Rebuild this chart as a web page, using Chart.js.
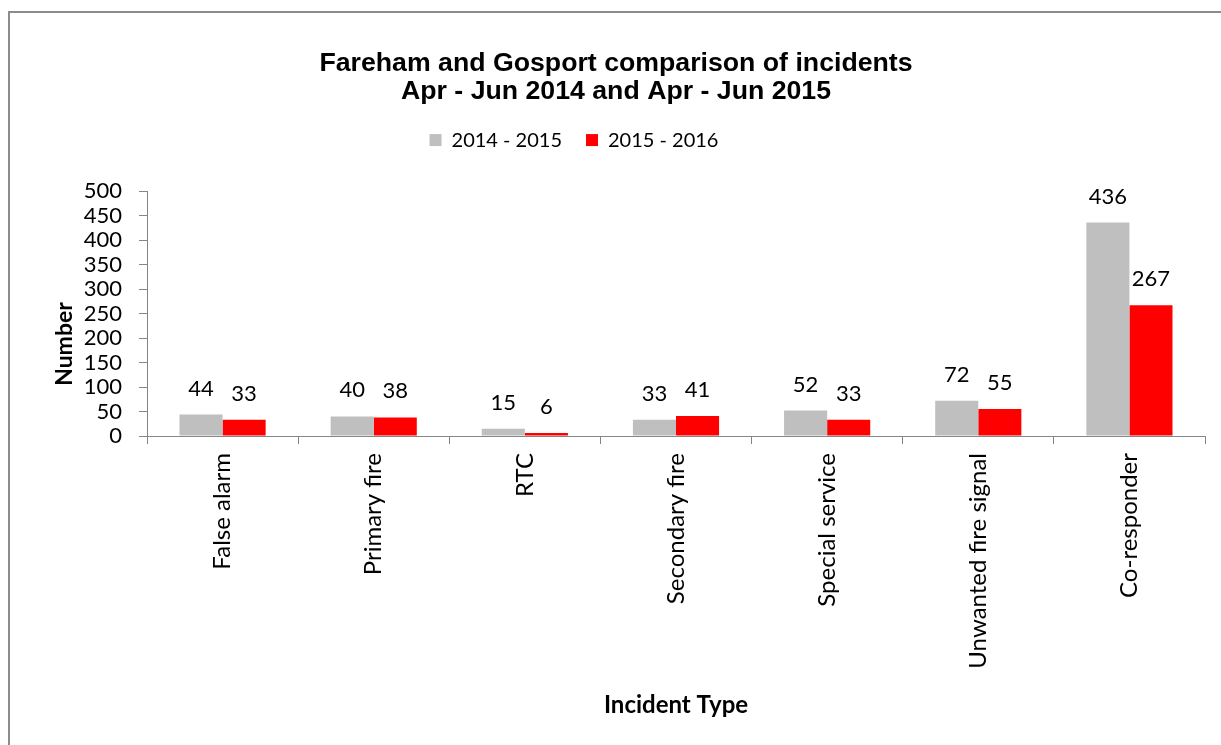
<!DOCTYPE html>
<html>
<head>
<meta charset="utf-8">
<script src="https://cdn.jsdelivr.net/npm/chart.js@4.4.0/dist/chart.umd.min.js"></script>
<style>
    body { margin: 0; background: #fff; }
    #frame {
        position: absolute; left: 8px; top: 11px; width: 1240px; height: 760px;
        border: 2px solid #8c8c8c; box-sizing: border-box;
    }
    #wrap { position: absolute; left: 0; top: 0; width: 1221px; height: 745px; }
</style>
</head>
<body>
<div id="frame"></div>
<div id="wrap"><canvas id="incidentChart" width="1221" height="745"></canvas></div>
<script>
const categories = ['False alarm', 'Primary fire', 'RTC', 'Secondary fire', 'Special service', 'Unwanted fire signal', 'Co-responder'];
const seriesNames = ['2014 - 2015', '2015 - 2016'];
const values2014 = [44, 40, 15, 33, 52, 72, 436];
const values2015 = [33, 38, 6, 41, 33, 55, 267];
const yTicks = [0, 50, 100, 150, 200, 250, 300, 350, 400, 450, 500];

const bodyFont = 'Lato, "Open Sans", sans-serif';

// value labels above each bar
const barLabels = {
    id: 'barLabels',
    afterDatasetsDraw(chart) {
        const ctx = chart.ctx;
        ctx.save();
        ctx.font = '22px ' + bodyFont;
        ctx.fillStyle = '#000';
        ctx.textAlign = 'center';
        ctx.textBaseline = 'middle';
        chart.data.datasets.forEach((ds, i) => {
            chart.getDatasetMeta(i).data.forEach((bar, j) => {
                ctx.fillText(ds.data[j], bar.x, bar.y - 26);
            });
        });
        ctx.restore();
    }
};

// extra room under the legend, and nudge title/legend left like the original
const legendGap = {
    id: 'legendGap',
    beforeInit(chart) {
        const fit = chart.legend.fit;
        chart.legend.fit = function () {
            fit.bind(chart.legend)();
            this.height += 31;
        };
    },
    afterUpdate(chart) {
        chart.legend.left -= 54;
        chart.legend.right -= 54;
        chart.titleBlock.left -= 12;
        chart.titleBlock.right -= 12;
    }
};

new Chart(document.getElementById('incidentChart'), {
    type: 'bar',
    data: {
        labels: categories,
        datasets: [
            { label: seriesNames[0], data: values2014, backgroundColor: '#bfbfbf' },
            { label: seriesNames[1], data: values2015, backgroundColor: '#ff0000' }
        ]
    },
    options: {
        responsive: false,
        animation: false,
        layout: { padding: { left: 51, right: 16, top: 0, bottom: 24 } },
        categoryPercentage: 0.57,
        barPercentage: 1,
        plugins: {
            title: {
                display: true,
                text: ['Fareham and Gosport comparison of incidents', 'Apr - Jun 2014 and Apr - Jun 2015'],
                color: '#000',
                font: { family: '"Liberation Sans", Arial, sans-serif', size: 26.7, weight: 'bold', lineHeight: 1.05 },
                padding: { top: 50, bottom: 0 }
            },
            legend: {
                labels: {
                    color: '#000',
                    font: { family: bodyFont, size: 20 },
                    boxWidth: 12,
                    boxHeight: 12,
                    padding: 24
                }
            },
            tooltip: { enabled: false }
        },
        scales: {
            x: {
                grid: { display: true, drawOnChartArea: false, color: '#868686', tickLength: 8 },
                border: { color: '#868686' },
                ticks: { color: '#000', font: { family: bodyFont, size: 24 }, minRotation: 90, maxRotation: 90, padding: 9 },
                title: { display: true, text: 'Incident Type', color: '#000', font: { family: bodyFont, size: 24, weight: 'bold' }, padding: { top: 4, bottom: 1 } },
                afterFit(scale) { scale.height = 285; }
            },
            y: {
                min: 0,
                max: 500,
                afterBuildTicks(scale) { scale.ticks = yTicks.map(v => ({ value: v })); },
                grid: { display: true, drawOnChartArea: false, color: '#868686', tickLength: 8 },
                border: { color: '#868686' },
                ticks: { color: '#000', font: { family: bodyFont, size: 22 }, padding: 17, autoSkip: false },
                // trailing spaces push the word below the axis middle, as in the original
                title: { display: true, text: 'Number' + '\u00a0'.repeat(11), color: '#000', font: { family: bodyFont, size: 23, weight: 'bold' }, padding: 0 },
                afterFit(scale) { scale.width = 96; }
            }
        }
    },
    plugins: [barLabels, legendGap]
});
</script>
</body>
</html>
